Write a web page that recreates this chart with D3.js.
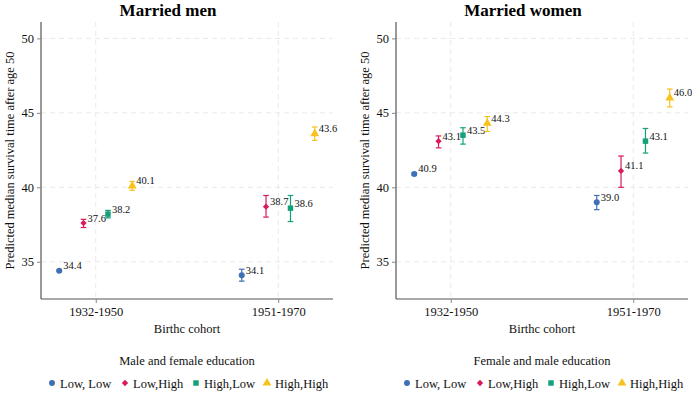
<!DOCTYPE html>
<html>
<head>
<meta charset="utf-8">
<script src="https://cdn.jsdelivr.net/npm/d3@7"></script>
<style>
  body { margin: 0; background: #fff; }
  svg { font-family: "Liberation Serif", "Times New Roman", serif; }
</style>
</head>
<body>
<div id="chart"></div>
<script>
// Data
var cohorts = ["1932-1950", "1951-1970"];
var groups = ["Low, Low", "Low,High", "High,Low", "High,High"];
var groupOffsets = [-0.2, -0.067, 0.067, 0.2];
var colors = ["#3f6fb5", "#d81b5c", "#14a079", "#f7c21c"];
var yTicks = [35, 40, 45, 50];

// men: [group][cohort]
var menEst = [[34.4, 34.1], [37.6, 38.7], [38.2, 38.6], [40.1, 43.6]];
var menLo  = [[34.35, 33.7], [37.3, 38.0], [37.95, 37.7], [39.8, 43.15]];
var menHi  = [[34.45, 34.5], [37.85, 39.45], [38.45, 39.45], [40.4, 44.05]];

var womenEst = [[40.9, 39.0], [43.1, 41.1], [43.5, 43.1], [44.3, 46.0]];
var womenLo  = [[40.83, 38.5], [42.65, 40.0], [42.9, 42.3], [43.75, 45.4]];
var womenHi  = [[40.98, 39.45], [43.45, 42.1], [44.0, 43.95], [44.75, 46.6]];

var svgWidth = 692;
var svgHeight = 395;

var svg = d3.select("#chart")
    .append("svg")
    .attr("width", svgWidth)
    .attr("height", svgHeight);

// diamond = square turned 45 degrees
var symbols = [d3.symbolCircle, d3.symbolSquare, d3.symbolSquare, d3.symbolTriangle];
var sizes = [28, 20, 30, 34];
var rotations = [0, 45, 0, 0];

function drawPanel(opts) {
    var g = svg.append("g");
    var left = opts.left, right = opts.right, top = 22, bottom = 299;

    var x = d3.scaleLinear().domain([0.7, 2.3]).range([left, right]);
    var y = d3.scaleLinear().domain([32.5, 51.1]).range([bottom, top]);

    // grid
    g.selectAll(".hgrid").data(yTicks).enter().append("line")
        .attr("x1", left).attr("x2", right)
        .attr("y1", d => y(d)).attr("y2", d => y(d))
        .attr("stroke", "#e9e9e9").attr("stroke-dasharray", "5,4");
    g.selectAll(".vgrid").data([1, 2]).enter().append("line")
        .attr("x1", d => x(d)).attr("x2", d => x(d))
        .attr("y1", top).attr("y2", bottom)
        .attr("stroke", "#e9e9e9").attr("stroke-dasharray", "5,4");

    // axes
    var leftAxis = d3.axisLeft(y).tickValues(yTicks).tickSize(4).tickPadding(3);
    var bottomAxis = d3.axisBottom(x).tickValues([1, 2])
        .tickFormat((d, i) => cohorts[i]).tickSize(4).tickPadding(4);

    var ya = g.append("g").attr("transform", `translate(${left},0)`).call(leftAxis);
    var xa = g.append("g").attr("transform", `translate(0,${bottom})`).call(bottomAxis);
    [ya, xa].forEach(function(a) {
        a.select(".domain").attr("stroke", "#555").attr("stroke-width", 1.2)
            .attr("d", a === ya ? `M0,${top}V${bottom}` : `M${left},0H${right}`);
        a.selectAll(".tick line").attr("stroke", "#888");
        a.selectAll("text").attr("font-family", "Liberation Serif").attr("font-size", 12.5).attr("fill", "#111");
    });

    // title
    g.append("text")
        .attr("x", opts.titleX).attr("y", 16)
        .attr("text-anchor", "middle")
        .attr("font-weight", "bold").attr("font-size", 17)
        .text(opts.title);

    // y label
    g.append("text")
        .attr("transform", `translate(${left - 27},${(top + bottom) / 2}) rotate(-90)`)
        .attr("text-anchor", "middle")
        .attr("font-size", 12.5).attr("fill", "#111")
        .text("Predicted median survival time after age 50");

    // x label
    g.append("text")
        .attr("x", (left + right) / 2).attr("y", 333)
        .attr("text-anchor", "middle")
        .attr("font-size", 12.5).attr("fill", "#111")
        .text("Birthc cohort");

    // points
    var pts = [];
    groups.forEach(function(gr, gi) {
        cohorts.forEach(function(c, ci) {
            pts.push({g: gi, xv: ci + 1 + groupOffsets[gi],
                est: opts.est[gi][ci], lo: opts.lo[gi][ci], hi: opts.hi[gi][ci]});
        });
    });

    var pg = g.selectAll(".pt").data(pts).enter().append("g");
    pg.append("line")
        .attr("x1", d => x(d.xv)).attr("x2", d => x(d.xv))
        .attr("y1", d => y(d.lo)).attr("y2", d => y(d.hi))
        .attr("stroke", d => colors[d.g]).attr("stroke-width", 1.2);
    ["lo", "hi"].forEach(function(k) {
        pg.append("line")
            .attr("x1", d => x(d.xv) - 2.8).attr("x2", d => x(d.xv) + 2.8)
            .attr("y1", d => y(d[k])).attr("y2", d => y(d[k]))
            .attr("stroke", d => colors[d.g]).attr("stroke-width", 1.2);
    });
    pg.append("path")
        .attr("transform", d => `translate(${x(d.xv)},${y(d.est)}) rotate(${rotations[d.g]})`)
        .attr("d", d => d3.symbol().type(symbols[d.g]).size(sizes[d.g])())
        .attr("fill", d => colors[d.g]);
    pg.append("text")
        .attr("x", d => x(d.xv) + 4).attr("y", d => y(d.est) - 1.5)
        .attr("font-size", 10.5).attr("fill", "#111")
        .text(d => d.est.toFixed(1));

    // legend
    g.append("text")
        .attr("x", opts.legendX).attr("y", 365)
        .attr("text-anchor", "middle")
        .attr("font-size", 12.5).attr("fill", "#111")
        .text(opts.legendTitle);

    var lg = g.selectAll(".leg").data(groups).enter().append("g")
        .attr("transform", (d, i) => `translate(${opts.legendMarks[i]},383)`);
    lg.append("path")
        .attr("transform", (d, i) => `rotate(${rotations[i]})`)
        .attr("d", (d, i) => d3.symbol().type(symbols[i]).size(sizes[i])())
        .attr("fill", (d, i) => colors[i]);
    lg.append("text")
        .attr("x", 8).attr("y", 4.5)
        .attr("font-size", 12.5).attr("fill", "#111")
        .text(d => d);
}

drawPanel({
    left: 41, right: 333, titleX: 168, title: "Married men",
    est: menEst, lo: menLo, hi: menHi,
    legendX: 187, legendTitle: "Male and female education",
    legendMarks: [52, 125, 196, 267]
});

drawPanel({
    left: 396, right: 688, titleX: 523, title: "Married women",
    est: womenEst, lo: womenLo, hi: womenHi,
    legendX: 542, legendTitle: "Female and male education",
    legendMarks: [407, 480, 551, 622]
});
</script>
</body>
</html>
